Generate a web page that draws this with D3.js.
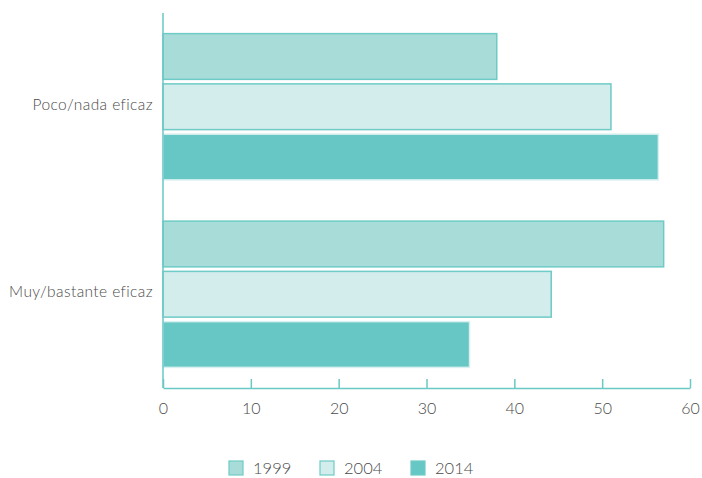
<!DOCTYPE html>
<html>
<head>
<meta charset="utf-8">
<script src="https://cdn.jsdelivr.net/npm/d3@7"></script>
<style>
  html, body { margin: 0; padding: 0; background: #fff; }
  svg text { font-family: "Lato", "Open Sans", sans-serif; font-weight: 300; fill: #4a4a4a; }
</style>
</head>
<body>
<svg id="chart" width="702" height="478"></svg>
<script>
// Categories and series
const categories = ["Poco/nada eficaz", "Muy/bastante eficaz"];
const years = ["1999", "2004", "2014"];
const values1999 = [38, 57];
const values2004 = [51, 44.2];
const values2014 = [56.4, 34.9];
const xTicks = [0, 10, 20, 30, 40, 50, 60];

const fills = { "1999": "#a8dcd9", "2004": "#d3ecec", "2014": "#67c7c4" };
const strokes = { "1999": "#6ecbc6", "2004": "#6ecbc6", "2014": "#d8f0ef" };

const series = { "1999": values1999, "2004": values2004, "2014": values2014 };
const rows = categories.map((c, i) => ({
  category: c,
  bars: years.map(yr => ({ year: yr, value: series[yr][i] }))
}));

const svg = d3.select("#chart");
const plotLeft = 163, plotRight = 690, plotTop = 13, plotBottom = 388;

const x = d3.scaleLinear().domain([0, 60]).range([plotLeft, plotRight]);
const y = d3.scaleBand().domain(categories).range([plotTop, plotBottom])
  .paddingInner(0.22).paddingOuter(0.11);
const yInner = d3.scaleBand().domain(years).range([0, y.bandwidth()])
  .paddingInner(0.09).paddingOuter(0);

// Bars
const groups = svg.append("g").selectAll("g").data(rows).join("g")
  .attr("transform", d => `translate(0,${y(d.category)})`);
groups.selectAll("rect").data(d => d.bars).join("rect")
  .attr("x", x(0))
  .attr("y", d => yInner(d.year))
  .attr("width", d => x(d.value) - x(0))
  .attr("height", yInner.bandwidth())
  .attr("fill", d => fills[d.year])
  .attr("stroke", d => strokes[d.year])
  .attr("stroke-width", 1.5);

// X axis with ticks pointing up into the plot
const xAxis = svg.append("g")
  .attr("transform", `translate(0,${plotBottom})`)
  .call(d3.axisBottom(x).tickValues(xTicks).tickSizeInner(-9).tickSizeOuter(0).tickPadding(12));
xAxis.select(".domain").attr("stroke", "#6ac8c5").attr("stroke-width", 1.5);
xAxis.selectAll(".tick line").attr("stroke", "#6ac8c5").attr("stroke-width", 1.5);
xAxis.selectAll(".tick text")
  .style("font-size", "16px").attr("fill", "#4a4a4a").attr("dy", "0.85em");

// Y axis line and category labels
const yAxis = svg.append("g")
  .attr("transform", `translate(${plotLeft},0)`)
  .call(d3.axisLeft(y).tickSize(0).tickPadding(10));
yAxis.select(".domain").remove();
svg.append("line")
  .attr("x1", plotLeft).attr("x2", plotLeft).attr("y1", plotTop).attr("y2", plotBottom)
  .attr("stroke", "#6ac8c5").attr("stroke-width", 1.5);
yAxis.selectAll(".tick text")
  .style("font-size", "15.5px").style("letter-spacing", "0.4px")
  .attr("fill", "#4a4a4a")
  .attr("dy", "0.2em");

// Legend
const legendX = d3.scalePoint().domain(years).range([229, 411]);
const legend = svg.append("g").selectAll("g").data(years).join("g")
  .attr("transform", d => `translate(${legendX(d)},461)`);
legend.append("rect")
  .attr("width", 14).attr("height", 14)
  .attr("fill", d => fills[d])
  .attr("stroke", "#6ecbc6").attr("stroke-width", 1.2);
legend.append("text")
  .attr("x", 24).attr("y", 7).attr("dy", "0.36em")
  .style("font-size", "16.5px")
  .text(d => d);
</script>
</body>
</html>
